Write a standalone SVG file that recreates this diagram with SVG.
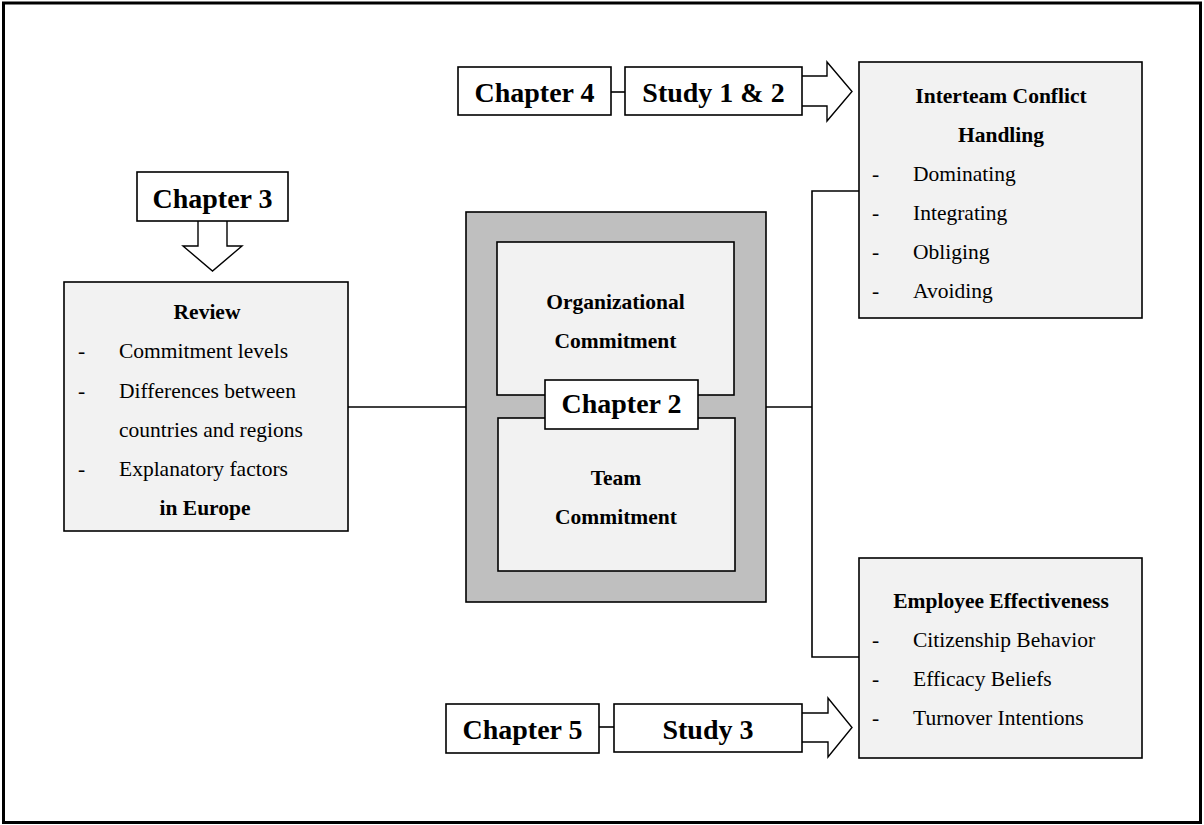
<svg xmlns="http://www.w3.org/2000/svg" width="1204" height="825" viewBox="0 0 1204 825">
<style>
.t{font-family:"Liberation Serif","Times New Roman",serif;fill:#000}
.ch{font-size:28px;font-weight:bold;text-anchor:middle}
.h{font-size:21.5px;font-weight:bold;text-anchor:middle}
.b{font-size:21.5px}
.box{fill:#f2f2f2;stroke:#000;stroke-width:1.6}
.wbox{fill:#fff;stroke:#000;stroke-width:1.6}
.ln{fill:none;stroke:#000;stroke-width:1.6}
.arr{fill:#fff;stroke:#000;stroke-width:1.4;stroke-linejoin:miter}
</style>
<rect x="0" y="0" width="1204" height="825" fill="#fff"/>
<rect x="3.5" y="3" width="1197" height="819.5" fill="none" stroke="#000" stroke-width="3"/>

<g id="connectors">
<line class="ln" x1="611" y1="92" x2="625" y2="92"/>
<line class="ln" x1="599" y1="727" x2="614" y2="727"/>
<line class="ln" x1="348" y1="407" x2="466" y2="407"/>
<polyline class="ln" points="766,407 812,407"/>
<polyline class="ln" points="859,191 812,191 812,657 859,657"/>
<path class="arr" d="M802,76 H827 V62 L852,91.5 L827,121 V106 H802"/>
<path class="arr" d="M802,713 H828 V698 L852,727.5 L828,757 V742 H802"/>
<path class="arr" d="M198,221 V246 H183 L212.5,271 L242,246 H227 V221"/>
</g>

<g id="chapter4">
<rect class="wbox" x="458" y="67" width="153" height="48"/>
<text class="t ch" x="534.5" y="102">Chapter 4</text>
</g>
<g id="study12">
<rect class="wbox" x="625" y="67" width="177" height="48"/>
<text class="t ch" x="713.5" y="102">Study 1 &amp; 2</text>
</g>

<g id="chapter3">
<rect class="wbox" x="137" y="172" width="151" height="49"/>
<text class="t ch" x="212.5" y="208">Chapter 3</text>
</g>

<g id="review">
<rect class="box" x="64" y="282" width="284" height="249"/>
<text class="t h" x="207" y="319">Review</text>
<text class="t b" x="78" y="358">-</text>
<text class="t b" x="119" y="358">Commitment levels</text>
<text class="t b" x="78" y="398">-</text>
<text class="t b" x="119" y="398">Differences between</text>
<text class="t b" x="119" y="437">countries and regions</text>
<text class="t b" x="78" y="476">-</text>
<text class="t b" x="119" y="476">Explanatory factors</text>
<text class="t h" x="205" y="515">in Europe</text>
</g>

<g id="central">
<rect x="466" y="212" width="300" height="390" fill="#bfbfbf" stroke="#000" stroke-width="1.6"/>
<g id="orgcommit">
<rect class="box" x="497" y="242" width="237" height="153"/>
<text class="t h" x="615.5" y="309">Organizational</text>
<text class="t h" x="615.5" y="348">Commitment</text>
</g>
<g id="teamcommit">
<rect class="box" x="498" y="418" width="237" height="153"/>
<text class="t h" x="616" y="485">Team</text>
<text class="t h" x="616" y="524">Commitment</text>
</g>
<g id="chapter2">
<rect class="wbox" x="545" y="380" width="153" height="49"/>
<text class="t ch" x="621.5" y="413">Chapter 2</text>
</g>
</g>

<g id="interteam">
<rect class="box" x="859" y="62" width="283" height="256"/>
<text class="t h" x="1001" y="103">Interteam Conflict</text>
<text class="t h" x="1001" y="142">Handling</text>
<text class="t b" x="872" y="181">-</text>
<text class="t b" x="913" y="181">Dominating</text>
<text class="t b" x="872" y="220">-</text>
<text class="t b" x="913" y="220">Integrating</text>
<text class="t b" x="872" y="259">-</text>
<text class="t b" x="913" y="259">Obliging</text>
<text class="t b" x="872" y="298">-</text>
<text class="t b" x="913" y="298">Avoiding</text>
</g>

<g id="effectiveness">
<rect class="box" x="859" y="558" width="283" height="200"/>
<text class="t h" x="1001" y="608">Employee Effectiveness</text>
<text class="t b" x="872" y="647">-</text>
<text class="t b" x="913" y="647">Citizenship Behavior</text>
<text class="t b" x="872" y="686">-</text>
<text class="t b" x="913" y="686">Efficacy Beliefs</text>
<text class="t b" x="872" y="725">-</text>
<text class="t b" x="913" y="725">Turnover Intentions</text>
</g>

<g id="chapter5">
<rect class="wbox" x="446" y="704" width="153" height="49"/>
<text class="t ch" x="522.5" y="739">Chapter 5</text>
</g>
<g id="study3">
<rect class="wbox" x="614" y="704" width="188" height="48"/>
<text class="t ch" x="708" y="739">Study 3</text>
</g>
</svg>
